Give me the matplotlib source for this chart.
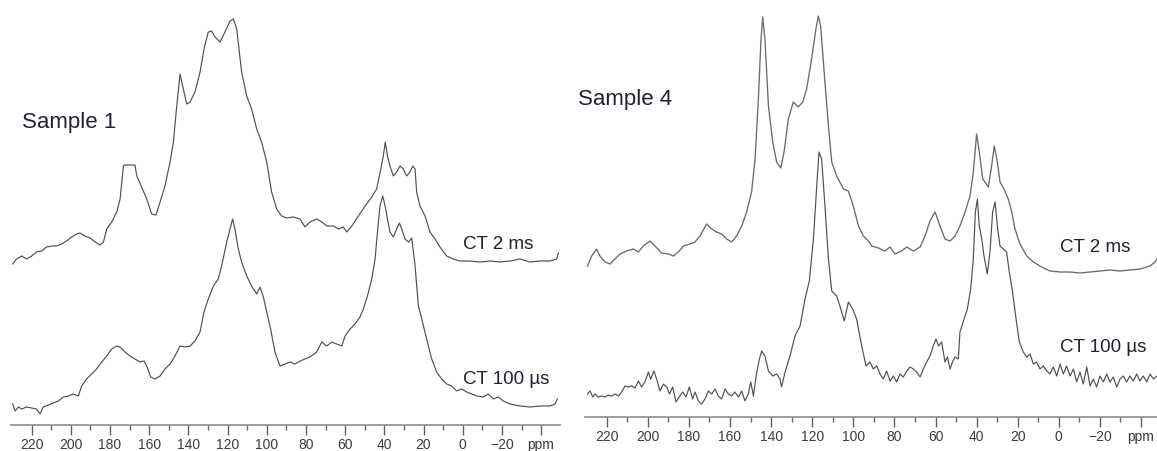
import numpy as np
import matplotlib
matplotlib.use("Agg")
import matplotlib.pyplot as plt
from matplotlib.ticker import FixedLocator

plt.rcParams['font.family'] = ['Liberation Sans', 'DejaVu Sans']

# ---------------- data (ppm, intensity in arbitrary units) ----------------
# Sample 1, CT 2 ms
L1_ppm = [229.6, 227.6, 225.0, 222.5, 219.9, 217.4, 214.8, 212.3, 209.7, 207.2,
          204.6, 202.1, 199.5, 197.0, 195.3, 192.7, 190.1, 187.6, 185.0, 183.3,
          181.6, 179.1, 176.5, 174.8, 173.1, 172.3, 167.2, 166.3, 163.8, 161.2,
          158.7, 156.5, 154.4, 151.9, 149.3, 147.6, 145.9, 144.2, 142.9, 140.8,
          139.1, 136.6, 134.0, 132.0, 129.8, 128.1, 126.4, 123.8, 121.3, 118.7,
          117.0, 115.3, 112.8, 110.2, 107.7, 105.1, 102.6, 100.0, 97.5, 94.9,
          92.4, 89.8, 86.4, 83.0, 80.5, 77.9, 74.5, 71.9, 69.4, 66.0,
          63.4, 60.9, 59.2, 56.6, 53.2, 49.8, 46.4, 43.9, 41.8, 40.5,
          39.5, 38.4, 37.1, 35.4, 33.7, 32.0, 30.3, 28.6, 26.9, 25.5,
          24.3, 23.5, 21.8, 19.2, 16.7, 14.1, 11.6, 8.2, 4.8, 1.4,
          -3.7, -8.8, -13.9, -19.0, -24.1, -29.2, -34.3, -39.4, -44.5, -47.9,
          -48.8]
L1_int = [161, 166, 169, 166, 169, 173, 174, 178, 179, 179,
          181, 184, 188, 191, 192, 189, 187, 183, 180, 183,
          196, 203, 213, 226, 259, 260, 260, 249, 238, 226,
          211, 210, 223, 239, 263, 283, 319, 351, 339, 321,
          323, 333, 353, 376, 393, 394, 388, 383, 393, 404,
          406, 396, 353, 329, 316, 296, 283, 263, 233, 216,
          209, 207, 208, 206, 198, 203, 206, 203, 199, 199,
          196, 198, 193, 199, 209, 219, 228, 236, 256, 269,
          283, 269, 259, 249, 253, 259, 256, 249, 253, 259,
          256, 233, 219, 209, 193, 186, 178, 169, 166, 164,
          164, 163, 164, 163, 164, 166, 163, 164, 164, 166,
          172]

# Sample 1, CT 100 us
L2_ppm = [229.6, 228.4, 226.7, 225.0, 222.5, 219.9, 217.4, 215.7, 214.0, 211.4,
          208.9, 206.3, 203.8, 201.2, 198.7, 196.1, 194.4, 191.9, 189.3, 186.8,
          184.2, 181.6, 179.1, 176.5, 174.8, 172.3, 169.7, 167.2, 164.6, 162.6,
          161.2, 159.2, 157.0, 154.4, 151.9, 149.3, 146.8, 144.2, 141.7, 139.1,
          136.6, 134.0, 132.0, 129.8, 127.2, 124.7, 123.0, 120.4, 118.7, 117.4,
          116.2, 114.5, 112.8, 110.2, 107.7, 105.1, 103.4, 101.7, 100.0, 98.0,
          95.8, 93.2, 90.7, 88.1, 85.6, 83.0, 80.5, 77.9, 74.5, 71.9,
          69.4, 66.8, 64.3, 61.7, 60.0, 57.5, 54.9, 52.4, 50.7, 48.6,
          46.4, 44.7, 43.5, 42.2, 40.8, 39.6, 38.4, 37.1, 35.4, 33.7,
          32.3, 31.1, 29.4, 27.7, 26.0, 24.3, 22.6, 20.9, 18.4, 15.8,
          13.3, 10.7, 8.2, 5.6, 3.1, 0.5, -2.0, -4.6, -7.1, -10.5,
          -13.1, -15.6, -18.2, -20.7, -24.1, -29.2, -34.3, -39.4, -44.5, -47.1,
          -48.3]
L2_int = [21, 14, 18, 16, 18, 17, 16, 11, 18, 20,
          22, 24, 28, 29, 31, 29, 39, 46, 51, 56,
          63, 69, 76, 79, 78, 73, 69, 66, 63, 64,
          59, 48, 46, 49, 56, 61, 69, 79, 78, 79,
          84, 93, 113, 126, 139, 146, 159, 183, 196, 206,
          196, 176, 163, 149, 139, 131, 138, 128, 113, 96,
          73, 59, 61, 63, 61, 64, 66, 68, 73, 83,
          79, 83, 81, 79, 89, 96, 101, 108, 116, 129,
          146, 166, 193, 219, 229, 219, 206, 193, 188, 196,
          202, 196, 186, 183, 187, 159, 119, 106, 86, 66,
          53, 46, 41, 39, 34, 36, 33, 31, 29, 28,
          31, 26, 28, 24, 21, 19, 18, 19, 19, 21,
          26]

# Sample 4, CT 2 ms
R1_ppm = [229.4, 227.3, 224.9, 223.3, 220.8, 218.4, 216.0, 213.5, 210.3, 207.0,
          204.6, 202.2, 198.9, 196.5, 193.3, 190.0, 187.6, 185.1, 182.7, 179.5,
          177.0, 174.6, 171.4, 168.9, 166.5, 164.1, 161.6, 159.2, 156.8, 154.3,
          151.9, 149.5, 147.8, 146.2, 144.9, 144.1, 143.0, 141.3, 139.2, 137.3,
          135.3, 133.7, 131.6, 129.2, 126.8, 124.6, 122.7, 120.3, 118.2, 117.0,
          115.9, 113.8, 112.1, 110.5, 108.1, 104.8, 102.4, 100.0, 97.5, 95.1,
          92.2, 91.1, 87.8, 84.6, 82.1, 79.7, 76.5, 74.0, 70.8, 67.5,
          65.1, 62.7, 60.2, 57.8, 55.4, 52.9, 50.5, 48.1, 45.6, 43.2,
          41.6, 40.0, 38.7, 37.0, 34.3, 32.7, 31.4, 29.9, 28.6, 26.7,
          24.6, 22.9, 21.3, 18.9, 15.6, 12.4, 8.3, 4.3, -0.6, -5.4,
          -10.3, -15.2, -20.0, -24.9, -29.8, -34.6, -39.5, -44.4, -46.8, -47.8]
R1_int = [151, 161, 168, 161, 155, 153, 158, 163, 166, 168,
          165, 171, 176, 171, 164, 163, 161, 165, 171, 173,
          175, 181, 193, 188, 185, 183, 178, 175, 181, 191,
          205, 225, 258, 318, 378, 400, 378, 311, 275, 255,
          249, 265, 298, 315, 310, 315, 328, 358, 388, 401,
          391, 335, 291, 255, 241, 228, 226, 211, 191, 181,
          175, 171, 169, 166, 170, 163, 166, 170, 166, 170,
          181, 196, 205, 191, 178, 176, 181, 191, 205, 221,
          245, 283, 265, 238, 230, 251, 271, 255, 235, 228,
          218, 205, 188, 173, 161, 155, 150, 146, 145, 145,
          144, 145, 146, 147, 146, 147, 148, 151, 155, 158]

# Sample 4, CT 100 us
R2_ppm = [229.4, 228.1, 226.8, 225.7, 224.1, 222.4, 220.8, 219.2, 217.6, 216.0,
          214.3, 212.7, 211.1, 209.5, 207.9, 206.2, 204.6, 203.0, 201.4, 199.7,
          198.6, 197.0, 195.4, 194.1, 192.4, 190.8, 189.5, 187.9, 186.3, 184.7,
          183.0, 181.4, 179.8, 178.2, 177.0, 175.4, 173.8, 172.2, 170.5, 168.9,
          167.3, 165.7, 164.1, 162.4, 160.8, 159.2, 157.6, 155.9, 154.3, 152.7,
          151.1, 149.9, 148.6, 147.3, 145.7, 144.6, 143.0, 141.3, 139.2, 137.3,
          135.7, 134.9, 133.2, 130.8, 128.4, 125.9, 123.5, 121.4, 119.4, 117.8,
          116.7, 115.4, 113.8, 112.1, 110.5, 108.1, 106.5, 104.4, 102.4, 100.3,
          98.4, 95.9, 93.8, 91.9, 90.3, 88.6, 87.0, 85.4, 83.8, 82.1,
          80.5, 78.9, 77.3, 75.7, 74.0, 72.4, 70.8, 69.2, 67.5, 65.9,
          64.3, 62.7, 61.1, 59.8, 58.5, 57.0, 55.4, 54.2, 52.9, 51.6,
          50.5, 48.9, 48.1, 46.1, 44.5, 42.9, 41.6, 40.6, 39.6, 38.7,
          37.5, 36.4, 34.8, 33.5, 32.2, 31.0, 29.9, 28.6, 27.0, 25.4,
          24.1, 22.5, 20.8, 19.2, 17.3, 15.6, 14.0, 12.4, 10.8, 9.2,
          7.5, 5.9, 4.3, 2.7, 1.0, -0.6, -2.2, -3.8, -5.5, -7.1,
          -8.7, -10.3, -11.9, -13.6, -15.2, -16.8, -18.4, -20.0, -21.7, -23.3,
          -24.9, -26.5, -28.2, -29.8, -31.4, -33.0, -34.6, -36.3, -37.9, -39.5,
          -41.1, -42.8, -44.4, -46.0, -47.8]
R2_int = [23, 26, 20, 23, 20, 21, 20, 22, 21, 23,
          21, 25, 31, 30, 31, 29, 36, 30, 35, 45,
          38, 46, 36, 26, 33, 30, 23, 30, 15, 20,
          25, 20, 30, 18, 25, 16, 13, 18, 26, 23,
          28, 21, 18, 28, 23, 21, 25, 20, 26, 16,
          23, 35, 21, 41, 58, 66, 61, 46, 41, 43,
          38, 30, 45, 61, 81, 91, 118, 136, 178, 231,
          265, 258, 211, 158, 126, 121, 111, 96, 115, 108,
          98, 71, 51, 55, 48, 51, 43, 38, 46, 36,
          41, 35, 43, 40, 46, 50, 48, 45, 40, 48,
          55, 61, 71, 78, 71, 75, 55, 60, 48, 56,
          60, 58, 85, 98, 108, 128, 158, 205, 218, 191,
          178, 161, 143, 165, 205, 215, 191, 171, 168, 165,
          145, 125, 98, 75, 65, 60, 63, 53, 55, 48,
          51, 46, 43, 50, 41, 53, 43, 51, 41, 48,
          35, 45, 33, 50, 31, 38, 30, 41, 35, 43,
          35, 40, 30, 38, 41, 35, 41, 36, 43, 36,
          41, 35, 43, 38, 41]

tick_values = [220, 200, 180, 160, 140, 120, 100, 80, 60, 40, 20, 0, -20, -40]
tick_labels = ['220', '200', '180', '160', '140', '120', '100', '80', '60', '40',
               '20', '0', '\u221220', 'ppm']
minor_values = [210, 190, 170, 150, 130, 110, 90, 70, 50, 30, 10, -10, -30]

sample_titles = ['Sample 1', 'Sample 4']
series_labels = ['CT 2 ms', 'CT 100 \u00b5s']

# ---------------- figure ----------------
W, H = 1157, 452
fig = plt.figure(figsize=(W / 100, H / 100), dpi=100)

line_col = '#505050'
axis_col = '#8c8c8c'
text_col = '#1f2233'


def make_axes(px_left, px_right, px_axis_y, xlim):
    ax = fig.add_axes([px_left / W, (H - px_axis_y) / H,
                       (px_right - px_left) / W, px_axis_y / H])
    ax.set_xlim(*xlim)
    ax.set_ylim(0, px_axis_y)
    for s in ('left', 'right', 'top'):
        ax.spines[s].set_visible(False)
    ax.spines['bottom'].set_color(axis_col)
    ax.spines['bottom'].set_linewidth(1.2)
    ax.set_yticks([])
    ax.xaxis.set_major_locator(FixedLocator(tick_values))
    ax.set_xticklabels(tick_labels,
                       family=['Liberation Sans Narrow', 'Liberation Sans', 'DejaVu Sans'],
                       fontsize=10, color='#3c3c3c')
    ax.xaxis.set_minor_locator(FixedLocator(minor_values))
    ax.tick_params(axis='x', which='major', direction='out', length=7,
                   width=1.0, color='#606060', pad=1.5)
    ax.tick_params(axis='x', which='minor', direction='out', length=3.5,
                   width=1.0, color='#606060')
    ax.patch.set_visible(False)
    return ax


axL = make_axes(11, 560, 426, (230.46, -49.64))
axL.plot(L1_ppm, L1_int, color=line_col, lw=0.85)
axL.plot(L2_ppm, L2_int, color=line_col, lw=0.85)

axR = make_axes(585, 1157, 418, (230.56, -47.78))
axR.plot(R1_ppm, R1_int, color='#6a6a6a', lw=0.95)
axR.plot(R2_ppm, R2_int, color=line_col, lw=0.85)


def ftext(px, py, s, size):
    fig.text(px / W, 1 - py / H, s, fontsize=size, color=text_col,
             ha='left', va='center')


ftext(22, 123, sample_titles[0], 16)
ftext(463, 245, series_labels[0], 13.5)
ftext(463, 380, series_labels[1], 13.5)
ftext(578, 99, sample_titles[1], 16)
ftext(1060, 248, series_labels[0], 13.5)
ftext(1060, 347, series_labels[1], 13.5)

fig.savefig('out.png', dpi=100)
